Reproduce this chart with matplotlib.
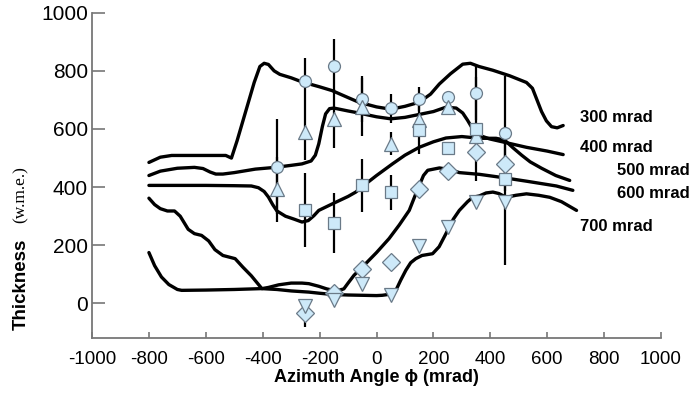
import matplotlib
matplotlib.use("Agg")
import matplotlib.pyplot as plt

plt.rcParams['font.family'] = ['Liberation Sans', 'DejaVu Sans']
plt.rcParams['axes.unicode_minus'] = False

# ---- smooth model curves (traced) ----
c300_x = [-800, -760, -720, -620, -530, -510, -490, -460, -430, -410, -395, -380, -360, -340,
          -300, -262, -200, -156, -100, -62, 0, 50, 100, 150, 190, 221, 260, 303, 330, 360,
          409, 468, 527, 548, 562, 580, 597, 615, 635, 656]
c300_y = [485, 503, 509, 509, 509, 500, 560, 660, 760, 815, 826, 822, 800, 788,
          776, 762, 745, 732, 708, 692, 676, 668, 678, 692, 720, 755, 790, 823, 826, 815,
          802, 783, 760, 740, 705, 660, 628, 608, 604, 612]

c400_x = [-800, -760, -700, -640, -610, -585, -565, -540, -500, -426, -356, -300, -262, -230,
          -215, -203, -190, -179, -165, -150, -100, -62, 0, 50, 100, 150, 200, 244, 280, 303,
          320, 338, 362, 397, 460, 527, 600, 656]
c400_y = [440, 455, 465, 468, 464, 452, 445, 445, 450, 462, 468, 475, 480, 490,
          510, 549, 610, 652, 670, 672, 662, 655, 642, 635, 640, 650, 660, 675, 672, 655,
          630, 600, 578, 566, 552, 537, 524, 512]

c500_x = [-800, -700, -600, -500, -440, -415, -395, -380, -365, -350, -320, -290, -262, -240,
          -220, -203, -150, -100, -73, -38, 0, 56, 100, 150, 200, 244, 300, 362, 420, 450,
          480, 510, 540, 580, 630, 679]
c500_y = [406, 406, 406, 405, 404, 398, 385, 366, 340, 318, 300, 290, 280, 285,
          302, 320, 345, 368, 383, 411, 440, 480, 510, 537, 556, 569, 574, 568, 568, 562,
          535, 510, 487, 465, 440, 423]

c600_x = [-800, -780, -760, -735, -710, -690, -662, -640, -615, -590, -568, -540, -497, -470,
          -440, -403, -380, -344, -300, -262, -238, -203, -175, -156, -130, -115, -100, -79,
          -38, 0, 44, 80, 115, 138, 150, 165, 180, 221, 260, 291, 362, 450, 530, 632, 690]
c600_y = [362, 340, 326, 318, 318, 300, 255, 240, 234, 215, 185, 165, 154, 125,
          95, 51, 55, 64, 70, 70, 68, 59, 50, 46, 46, 50, 70, 97,
          137, 175, 223, 270, 320, 377, 405, 440, 458, 466, 460, 450, 444, 432, 420, 404, 389]

c700_x = [-800, -780, -756, -730, -700, -685, -600, -500, -403, -350, -300, -238, -200, -156,
          -100, -50, 0, 20, 50, 68, 85, 103, 120, 138, 160, 197, 220, 244, 270, 291, 320,
          338, 362, 385, 409, 430, 456, 490, 527, 570, 609, 650, 703]
c700_y = [175, 130, 91, 65, 48, 45, 46, 48, 51, 48, 43, 39, 35, 31,
          29, 28, 27, 28, 32, 45, 80, 114, 140, 154, 165, 171, 195, 240, 290, 320, 350,
          365, 370, 380, 383, 378, 365, 372, 377, 372, 365, 350, 320]

curve_labels = ["300 mrad", "400 mrad", "500 mrad", "600 mrad", "700 mrad"]
label_x = [715, 715, 845, 845, 715]
label_y = [640, 537, 457, 377, 263]

# ---- measured points ----
circ_x = [-350, -250, -150, -50, 50, 150, 250, 350, 450]
circ_y = [471, 766, 817, 703, 671, 703, 709, 724, 585]
circ_err = [165, 79, 94, 80, 50, 40, 0, 94, 198]

tri_x = [-350, -250, -150, -50, 50, 150, 250, 350]
tri_y = [392, 589, 635, 677, 549, 630, 677, 577]
tri_err = [113, 97, 102, 100, 40, 0, 0, 0]

sq_x = [-250, -150, -50, 50, 150, 250, 350, 450]
sq_y = [322, 278, 406, 383, 597, 535, 600, 429]
sq_err = [127, 103, 92, 60, 82, 0, 178, 0]

dia_x = [-250, -150, -50, 50, 150, 250, 350, 450]
dia_y = [-33, 36, 120, 142, 394, 457, 522, 480]
dia_err = [48, 0, 0, 0, 0, 0, 0, 0]

tdn_x = [-250, -150, -50, 50, 150, 250, 350, 450]
tdn_y = [-10, 11, 68, 28, 196, 262, 348, 348]
tdn_err = [0, 0, 0, 0, 0, 0, 0, 217]

fig = plt.figure(figsize=(6.94, 3.97), dpi=100)
ax = fig.add_axes([0.1326, 0.1478, 0.8199, 0.8202])

for cx, cy in [(c300_x, c300_y), (c400_x, c400_y), (c500_x, c500_y),
               (c600_x, c600_y), (c700_x, c700_y)]:
    ax.plot(cx, cy, color="black", lw=2.4, solid_joinstyle="round",
            solid_capstyle="round", zorder=2)

face = "#cde9f9"
edge = "#6a7a88"
series = [
    (circ_x, circ_y, circ_err, "o", 8.6),
    (tri_x, tri_y, tri_err, "^", 9.5),
    (sq_x, sq_y, sq_err, "s", 8.4),
    (dia_x, dia_y, dia_err, "D", 9.0),
    (tdn_x, tdn_y, tdn_err, "v", 9.5),
]
for sx, sy, se, mk, ms in series:
    ax.errorbar(sx, sy, yerr=se, fmt="none", ecolor="black", elinewidth=1.6,
                capsize=0, zorder=3)
for sx, sy, se, mk, ms in series:
    ax.plot(sx, sy, linestyle="none", marker=mk, markersize=ms,
            markerfacecolor=face, markeredgecolor=edge, markeredgewidth=0.9, zorder=4)

for txt, tx, ty in zip(curve_labels, label_x, label_y):
    ax.text(tx, ty, txt, fontsize=12, fontweight="bold", ha="left", va="center")

ax.set_xlim(-1000, 1000)
ax.set_ylim(-120, 1000)
ax.set_xticks(range(-1000, 1001, 200))
ax.set_yticks(range(0, 1001, 200))
ax.tick_params(axis="y", direction="in", length=9.5, width=1.2, color="#777777",
               pad=3, labelsize=15)
ax.tick_params(axis="x", direction="in", length=4, width=1.2, color="#777777",
               pad=9, labelsize=13.5)
for s in ["top", "right"]:
    ax.spines[s].set_visible(False)
for s in ["left", "bottom"]:
    ax.spines[s].set_color("#777777")
    ax.spines[s].set_linewidth(1.3)

fig.text(0.5425, 0.028, "Azimuth Angle ϕ (mrad)", fontsize=13, fontweight="bold",
         ha="center", va="bottom")
fig.text(0.030, 0.169, "Thickness", fontsize=13.5, fontweight="bold", rotation=90,
         ha="center", va="bottom")
fig.text(0.030, 0.438, "(w.m.e.)", fontsize=12.5, rotation=90, ha="center", va="bottom",
         family=["Liberation Serif", "DejaVu Serif"])

fig.savefig("out.png", dpi=100)
